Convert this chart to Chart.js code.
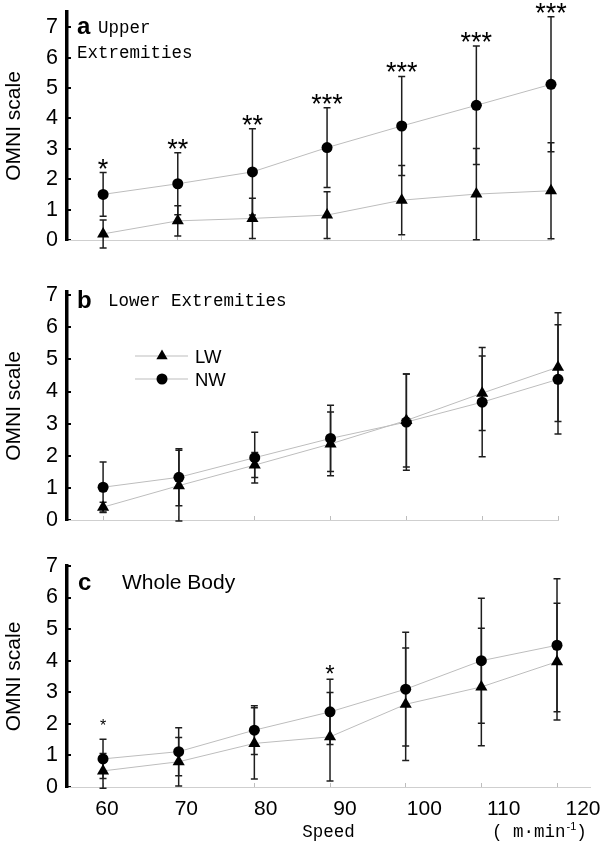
<!DOCTYPE html>
<html>
<head>
<meta charset="utf-8">
<script src="https://cdn.jsdelivr.net/npm/chart.js@4/dist/chart.umd.min.js"></script>
<style>
  body { margin: 0; background: #fff; }
  #wrap { position: relative; width: 600px; height: 844px; }
  #wrap canvas { position: absolute; left: 0; top: 0; }
</style>
</head>
<body>
<div id="wrap">
  <canvas id="chartA" width="600" height="844"></canvas>
  <canvas id="chartB" width="600" height="844"></canvas>
  <canvas id="chartC" width="600" height="844"></canvas>
</div>
<script>
/* ================= DADOS ================= */

const speeds = [60, 70, 80, 90, 100, 110, 120];
const yTicks = [0, 1, 2, 3, 4, 5, 6, 7];

// a - Upper Extremities
const upperNW   = [1.50, 1.85, 2.24, 3.04, 3.75, 4.43, 5.12];
const upperNWsd = [0.72, 1.02, 1.42, 1.31, 1.63, 1.95, 2.22];
const upperLW   = [0.20, 0.63, 0.71, 0.82, 1.31, 1.51, 1.62];
const upperLWsd = [0.46, 0.50, 0.66, 0.77, 1.14, 1.50, 1.58];
const upperSig  = ["*", "**", "**", "***", "***", "***", "***"];

// b - Lower Extremities
const lowerNW   = [1.02, 1.33, 1.94, 2.54, 3.05, 3.67, 4.38];
const lowerNWsd = [0.79, 0.89, 0.79, 1.03, 1.50, 1.70, 1.70];
const lowerLW   = [0.40, 1.07, 1.71, 2.37, 3.10, 3.95, 4.76];
const lowerLWsd = [0.15, 1.10, 0.39, 0.99, 1.45, 1.16, 1.69];
const lowerSig  = ["", "", "", "", "", "", ""];

// c - Whole Body
const wholeNW   = [0.89, 1.12, 1.80, 2.38, 3.10, 4.00, 4.49];
const wholeNWsd = [0.62, 0.76, 0.77, 1.03, 1.80, 1.98, 2.11];
const wholeLW   = [0.51, 0.80, 1.38, 1.59, 2.62, 3.17, 3.97];
const wholeLWsd = [0.55, 0.77, 1.13, 1.40, 1.78, 1.86, 1.85];
const wholeSig  = ["*", "", "", "*", "", "", ""];

/* ================= PLUGINS ================= */

const errorBars = {
  id: "errorBars",
  beforeDatasetsDraw(chart) {
    const ctx = chart.ctx;
    const y = chart.scales.y;
    ctx.save();
    ctx.strokeStyle = "#1e1e1e";
    ctx.lineWidth = 1.5;
    chart.data.datasets.forEach((ds, di) => {
      chart.getDatasetMeta(di).data.forEach((pt, i) => {
        const v = ds.data[i].y;
        const top = y.getPixelForValue(v + ds.sd[i]);
        const bot = y.getPixelForValue(v - ds.sd[i]);
        ctx.beginPath();
        ctx.moveTo(pt.x, top); ctx.lineTo(pt.x, bot);
        ctx.moveTo(pt.x - 3.5, top); ctx.lineTo(pt.x + 3.5, top);
        ctx.moveTo(pt.x - 3.5, bot); ctx.lineTo(pt.x + 3.5, bot);
        ctx.stroke();
      });
    });
    ctx.restore();
  }
};

function marker(ctx, style, x, y) {
  ctx.beginPath();
  if (style === "circle") {
    ctx.arc(x, y, 5.5, 0, Math.PI * 2);
  } else {
    const r = 6.5;
    ctx.moveTo(x, y - r);
    ctx.lineTo(x + r * 0.866, y + r / 2);
    ctx.lineTo(x - r * 0.866, y + r / 2);
    ctx.closePath();
  }
  ctx.fill();
}

const deco = {
  id: "deco",
  afterDatasetsDraw(chart, args, o) {
    const ctx = chart.ctx;
    const x = chart.scales.x, y = chart.scales.y;
    const nw = chart.data.datasets[1];
    ctx.save();
    ctx.fillStyle = "#000";

    // asteriscos (linha de base relativa ao topo da barra de erro do NW)
    ctx.textAlign = "center";
    ctx.textBaseline = "alphabetic";
    o.sig.forEach((s, i) => {
      if (!s) return;
      ctx.font = o.starSize[i] + 'px "Liberation Sans"';
      const px = x.getPixelForValue(speeds[i]);
      const py = y.getPixelForValue(nw.data[i].y + nw.sd[i]) + o.starDy[i];
      ctx.fillText(s, px, py);
    });

    // textos do painel
    ctx.textAlign = "left";
    o.texts.forEach(t => {
      ctx.font = t.font;
      ctx.fillText(t.text, t.x, t.y);
    });

    // legenda
    if (o.legend) {
      chart.data.datasets.forEach((ds, i) => {
        const ly = o.legend.y[i];
        ctx.strokeStyle = "#bdbdbd";
        ctx.lineWidth = 1;
        ctx.beginPath();
        ctx.moveTo(o.legend.x1, ly); ctx.lineTo(o.legend.x2, ly);
        ctx.stroke();
        ctx.fillStyle = "#000";
        marker(ctx, ds.pointStyle, o.legend.xm, ly);
        ctx.font = '18.5px "Liberation Sans"';
        ctx.fillText(ds.label, o.legend.xt, ly + 6.5);
      });
    }

    // unidade
    if (o.unit) {
      let ux = o.unit.x;
      ctx.font = '17.5px "Liberation Mono"';
      ctx.fillText("( m·min", ux, o.unit.y);
      ux += ctx.measureText("( m·min").width;
      ctx.font = '11px "Liberation Sans"';
      ctx.fillText("-1", ux + 1, o.unit.y - 7);
      ux += ctx.measureText("-1").width + 1;
      ctx.font = '17.5px "Liberation Mono"';
      ctx.fillText(")", ux, o.unit.y);
    }
    ctx.restore();
  }
};

/* ================= GRÁFICOS ================= */

function datasets(nw, nwSd, lw, lwSd) {
  const base = {
    borderColor: "#bdbdbd",
    borderWidth: 1,
    backgroundColor: "#000",
    pointBackgroundColor: "#000",
    pointBorderColor: "#000",
    pointBorderWidth: 0,
    tension: 0,
    clip: false
  };
  return [
    { ...base, label: "LW", pointStyle: "triangle", pointRadius: 7,
      data: speeds.map((s, i) => ({ x: s, y: lw[i] })), sd: lwSd },
    { ...base, label: "NW", pointStyle: "circle", pointRadius: 5.5,
      data: speeds.map((s, i) => ({ x: s, y: nw[i] })), sd: nwSd }
  ];
}

function yScale(yMax) {
  return {
    type: "linear", min: 0, max: yMax,
    afterBuildTicks: s => { s.ticks = yTicks.map(v => ({ value: v })); },
    afterFit: s => { s.width = 67; s.paddingTop = 0; s.paddingBottom = 0; },
    border: { color: "#000", width: 3.5 },
    grid: { drawOnChartArea: false, tickLength: -4, color: "#000", lineWidth: 2 },
    ticks: { color: "#000", padding: 13, font: { family: "Liberation Sans", size: 21.5 } },
    title: {
      display: true, text: "OMNI scale", color: "#000",
      font: { family: "Liberation Sans", size: 21 }, padding: { top: 2, bottom: 0 }
    }
  };
}

function xScale(xMin, xMax) {
  return {
    type: "linear", min: xMin, max: xMax, weight: 0,
    afterBuildTicks: s => { s.ticks = speeds.map(v => ({ value: v })); },
    afterFit: s => { s.height = 0; s.paddingLeft = 0; s.paddingRight = 0; },
    border: { color: "#cfcfcf", width: 1 },
    grid: { drawOnChartArea: false, tickLength: -4, color: "#bdbdbd", lineWidth: 1 },
    ticks: { display: false }
  };
}

function criarPainel(id, cfg) {
  const scales = { x: xScale(cfg.xMin, cfg.xMax), y: yScale(cfg.yMax) };
  if (cfg.labels) {
    scales.xl = {
      type: "linear", position: "bottom", weight: 1,
      min: cfg.labels.min, max: cfg.labels.max,
      afterBuildTicks: s => { s.ticks = speeds.map(v => ({ value: v })); },
      afterFit: s => { s.height = 57; s.paddingLeft = 0; s.paddingRight = 0; },
      border: { display: false },
      grid: { display: false, drawTicks: false },
      ticks: { color: "#000", padding: 10, maxRotation: 0, font: { family: "Liberation Sans", size: 21 } },
      title: {
        display: true, text: "Speed", color: "#000",
        font: { family: "Liberation Mono", size: 17.5 }, padding: { top: 0, bottom: 1 }
      }
    };
  }
  return new Chart(document.getElementById(id), {
    type: "line",
    data: { datasets: cfg.datasets },
    options: {
      responsive: false,
      animation: false,
      events: [],
      layout: { padding: cfg.padding },
      scales,
      plugins: {
        legend: { display: false },
        tooltip: { enabled: false },
        deco: cfg.deco
      }
    },
    plugins: [errorBars, deco]
  });
}

/* ================= INIT ================= */

const mono = '17.5px "Liberation Mono"';
const bold = 'bold 24px "Liberation Sans"';
const big = [27, 27, 27, 27, 27, 27, 27];
const bigDy = [5, 5, 5, 5, 5, 5, 5];

criarPainel("chartA", {
  datasets: datasets(upperNW, upperNWsd, upperLW, upperLWsd),
  yMax: 7.5, xMin: 55.16, xMax: 120,
  padding: { top: 12, bottom: 604, left: 0, right: 49 },
  deco: {
    sig: upperSig, starSize: big, starDy: bigDy,
    texts: [
      { text: "a", x: 77, y: 34, font: bold },
      { text: "Upper", x: 98, y: 33, font: mono },
      { text: "Extremities", x: 77, y: 58, font: mono }
    ]
  }
});

criarPainel("chartB", {
  datasets: datasets(lowerNW, lowerNWsd, lowerLW, lowerLWsd),
  yMax: 7.1, xMin: 55.24, xMax: 120,
  padding: { top: 292, bottom: 324, left: 0, right: 42 },
  deco: {
    sig: lowerSig, starSize: big, starDy: bigDy,
    texts: [
      { text: "b", x: 77, y: 308, font: bold },
      { text: "Lower Extremities", x: 108, y: 306, font: mono }
    ],
    legend: { x1: 135, x2: 188, xm: 162, xt: 195, y: [356, 379] }
  }
});

criarPainel("chartC", {
  datasets: datasets(wholeNW, wholeNWsd, wholeLW, wholeLWsd),
  yMax: 7, xMin: 55.24, xMax: 124.36,
  labels: { min: 54.96, max: 120.88 },
  padding: { top: 566, bottom: 0, left: 0, right: 10 },
  deco: {
    sig: wholeSig,
    starSize: [16, 27, 27, 24, 27, 27, 27],
    starDy: [-8, 5, 5, 3, 5, 5, 5],
    texts: [
      { text: "c", x: 78, y: 590, font: bold },
      { text: "Whole Body", x: 122, y: 589, font: '21px "Liberation Sans"' }
    ],
    unit: { x: 492, y: 837 }
  }
});
</script>
</body>
</html>
